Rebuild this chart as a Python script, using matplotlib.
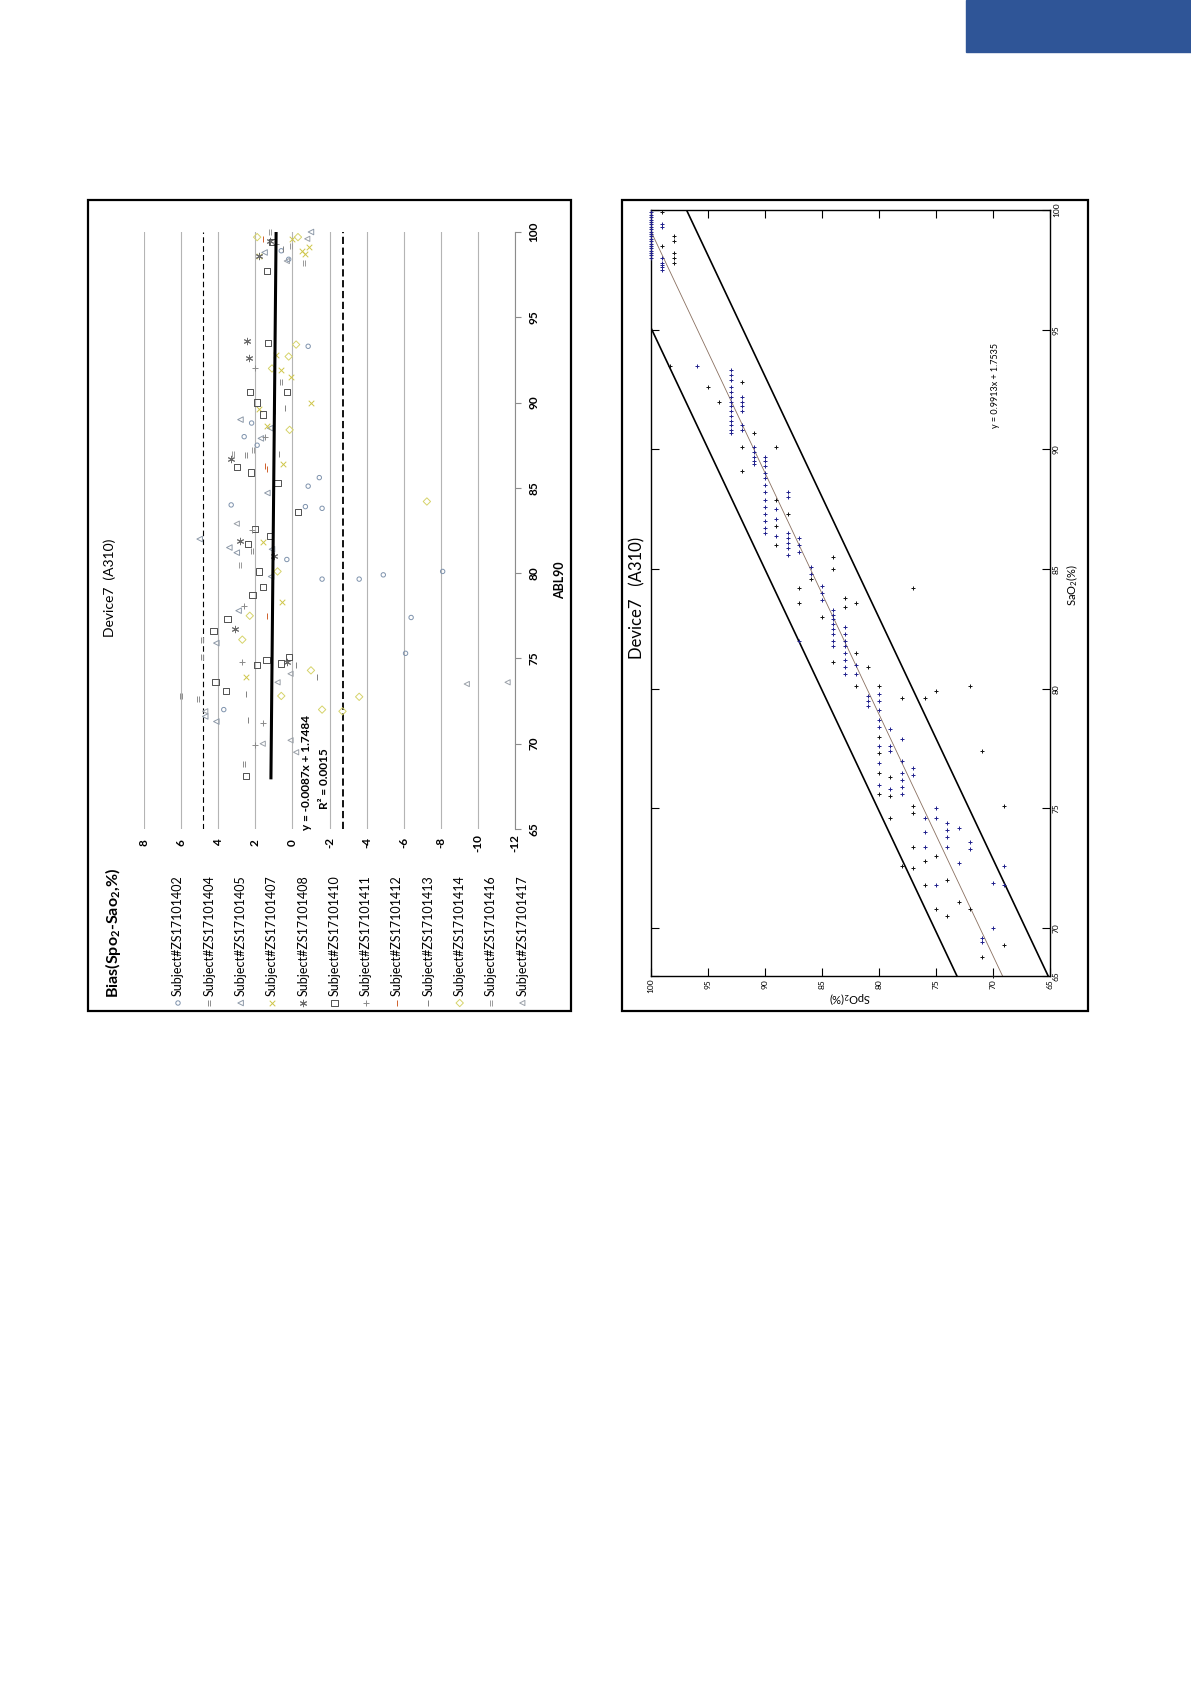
import numpy as np
import matplotlib
matplotlib.use('Agg')
import matplotlib.pyplot as plt
from matplotlib.patches import Rectangle

plt.rcParams['font.family'] = ['Lato', 'DejaVu Sans']
plt.rcParams['mathtext.fontset'] = 'custom'
plt.rcParams['mathtext.rm'] = 'Lato'
plt.rcParams['mathtext.it'] = 'Lato:italic'
plt.rcParams['mathtext.bf'] = 'Lato:bold'

# ---- left chart: bias vs ABL90, one list of (bias, abl90) per subject ----
s402 = [(-1.6, 79.65), (-3.6, 79.65), (-4.9, 79.9), (-8.1, 80.1), (-6.4, 77.4), (-6.1, 75.3),
        (-0.85, 93.3), (-1.45, 85.6), (-0.85, 85.1), (-0.7, 83.9), (-1.6, 83.8), (0.6, 98.9),
        (0.2, 98.4), (3.3, 84.0), (3.7, 72.0), (0.3, 80.8), (1.9, 87.5), (2.6, 88.0),
        (2.2, 88.8)]
s404 = [(4.9, 76.1), (4.9, 75.1), (6.0, 72.8), (5.1, 72.6), (2.6, 68.8), (1.0, 89.5),
        (2.5, 86.9), (0.6, 91.2), (2.2, 81.3)]
s405 = [(5.0, 82.0), (2.8, 89.0), (1.35, 84.7), (4.1, 75.9), (4.7, 71.6), (4.1, 71.3),
        (1.15, 79.8), (2.9, 77.8), (-1.0, 100.0), (3.4, 81.5), (3.0, 81.2), (1.7, 87.9),
        (1.2, 88.5), (1.5, 98.8), (1.1, 81.4)]
s407 = [(0.55, 78.3), (2.5, 73.9), (-1.0, 90.0), (-0.9, 99.1), (-0.7, 98.7), (1.35, 88.6),
        (0.9, 92.8), (1.8, 98.6), (0.5, 86.4), (1.6, 81.8), (0.1, 91.5), (1.8, 89.6),
        (0.6, 91.9), (0.0, 99.6), (-0.5, 98.9)]
s408 = [(2.45, 93.6), (3.1, 76.7), (3.3, 86.7), (1.8, 98.6), (0.3, 74.8), (1.2, 99.5),
        (1.0, 81.0), (2.35, 92.6), (2.8, 81.9)]
s410 = [(2.3, 90.6), (0.3, 90.6), (1.9, 90.0), (1.6, 89.3), (3.0, 86.2), (2.25, 85.9),
        (0.8, 85.3), (-0.3, 83.6), (1.2, 82.2), (2.15, 78.7), (1.6, 79.2), (1.8, 80.1),
        (3.5, 77.3), (4.25, 76.6), (4.15, 73.6), (3.6, 73.1), (1.4, 74.9), (1.9, 74.6),
        (0.6, 74.7), (0.2, 75.1), (2.5, 68.1), (1.37, 97.7), (1.1, 99.4), (2.4, 81.7),
        (1.3, 93.5), (2.0, 82.6)]
s411 = [(1.99, 92.0), (2.6, 78.1), (2.7, 74.8), (2.0, 69.9), (1.6, 71.2), (1.5, 88.0),
        (2.2, 82.5), (0.9, 99.3)]
s412 = [(1.35, 86.1), (1.35, 77.5), (1.5, 86.3), (1.6, 99.6)]
s413 = [(-0.2, 74.6), (-1.35, 73.9), (2.5, 72.9), (2.4, 71.4), (0.7, 87.0), (0.4, 89.7),
        (0.5, 99.0)]
s414 = [(0.15, 88.4), (-7.25, 84.2), (-3.6, 72.75), (-1.6, 72.0), (-2.7, 71.9), (-1.0, 74.3),
        (0.6, 72.8), (2.7, 76.1), (2.3, 77.5), (0.8, 80.1), (1.9, 99.7), (-0.3, 99.7),
        (1.1, 92.0), (0.2, 92.7), (-0.2, 93.4)]
s416 = [(1.2, 100.0), (0.1, 99.2), (-0.6, 98.2), (2.1, 87.2), (2.8, 80.5), (3.2, 87.0)]
s417 = [(-9.4, 73.5), (-11.6, 73.6), (0.8, 73.6), (0.1, 74.1), (1.6, 70.0), (0.1, 70.2),
        (-0.2, 69.5), (4.7, 71.9), (0.3, 98.3), (-0.8, 99.6), (3.0, 82.9)]

subject_names = ['Subject#ZS17101402', 'Subject#ZS17101404', 'Subject#ZS17101405',
                 'Subject#ZS17101407', 'Subject#ZS17101408', 'Subject#ZS17101410',
                 'Subject#ZS17101411', 'Subject#ZS17101412', 'Subject#ZS17101413',
                 'Subject#ZS17101414', 'Subject#ZS17101416', 'Subject#ZS17101417']
subjects = [s402, s404, s405, s407, s408, s410, s411, s412, s413, s414, s416, s417]

bias_ticks = [8, 6, 4, 2, 0, -2, -4, -6, -8, -10, -12]
abl_ticks = [65, 70, 75, 80, 85, 90, 95, 100]
upper_loa = 4.80
lower_loa = -2.74
fit_slope, fit_icpt = -0.0087, 1.7484
fit_range = [68, 100]

# ---- right chart: SpO2 vs SaO2, (spo2, sao2) pairs ----
blue_points = [
    (100, 99.9), (100, 99.8), (100, 99.7), (100, 99.6), (100, 99.5), (100, 99.4), (100, 99.3),
    (100, 99.2), (100, 99.1), (100, 99.0), (100, 98.9), (100, 98.8), (100, 98.7), (100, 98.6),
    (100, 98.5), (100, 98.4), (100, 98.3), (100, 98.2), (100, 98.1), (100, 98.0),
    (99, 99.4), (99, 99.3), (99, 98.0), (99, 97.8), (99, 97.7), (99, 97.6), (99, 97.5),
    (96, 93.5),
    (93, 93.3), (93, 93.1), (93, 92.9), (93, 92.6), (93, 92.4), (93, 92.2), (93, 92.0),
    (93, 91.8), (93, 91.6), (93, 91.4), (93, 91.2), (93, 91.0), (93, 90.8), (93, 90.7),
    (92, 92.2), (92, 92.0), (92, 91.8), (92, 91.6), (92, 91.0), (92, 90.8),
    (91, 90.1), (91, 89.9), (91, 89.7), (91, 89.5), (91, 89.4),
    (90, 89.7), (90, 89.5), (90, 89.3), (90, 89.0), (90, 88.8), (90, 88.5), (90, 88.2),
    (90, 87.9), (90, 87.6), (90, 87.3), (90, 87.0), (90, 86.7), (90, 86.5),
    (89, 87.5), (89, 87.1), (89, 86.4),
    (88, 88.2), (88, 88.0), (88, 86.5), (88, 86.3), (88, 86.1), (88, 85.9), (88, 85.6),
    (87, 86.3), (87, 86.0), (87, 85.7), (87, 82.0),
    (86, 85.1), (86, 84.8),
    (85, 84.3), (85, 84.0), (85, 83.7),
    (84, 83.3), (84, 83.1), (84, 82.9), (84, 82.7), (84, 82.5), (84, 82.3), (84, 82.0), (84, 81.8),
    (83, 82.6), (83, 82.3), (83, 82.0), (83, 81.8), (83, 81.5), (83, 81.2), (83, 80.9), (83, 80.6),
    (82, 81.0), (82, 80.6),
    (81, 79.7), (81, 79.5), (81, 79.3),
    (80, 79.8), (80, 79.5), (80, 79.1), (80, 78.7), (80, 78.4), (80, 77.6), (80, 76.9), (80, 76.0),
    (79, 78.3), (79, 77.6), (79, 77.4), (79, 75.8),
    (78, 77.9), (78, 77.0), (78, 76.5), (78, 76.2), (78, 75.9), (78, 75.6),
    (77, 76.7), (77, 76.4),
    (76, 74.6), (76, 74.0), (76, 73.4),
    (75, 75.0), (75, 74.6), (75, 71.8),
    (74, 74.4), (74, 74.1), (74, 73.8), (74, 73.4),
    (73, 74.2), (73, 72.7),
    (72, 73.6), (72, 73.3),
    (71, 69.6), (71, 69.4),
    (70, 71.9), (70, 70.0),
    (69, 72.6), (69, 71.8)]
black_points = [
    (99, 99.9), (99, 98.5), (98, 98.9), (98, 98.7), (98, 98.2), (98, 98.0), (98, 97.8),
    (98.3, 93.5), (95, 92.6), (94, 92.0), (92, 92.8), (92, 90.1), (92, 89.1), (91, 90.7),
    (89, 90.1), (89, 87.9), (89, 86.8), (89, 86.0), (88, 87.3), (87, 84.2), (87, 83.6),
    (86, 84.6), (85, 83.0), (84, 85.5), (84, 85.0), (84, 81.1), (83, 83.8), (83, 83.4),
    (82, 83.6), (82, 81.5), (82, 80.1), (81, 80.9), (80, 80.1), (80, 78.0), (80, 77.3),
    (80, 76.5), (80, 75.6), (79, 76.3), (79, 75.5), (79, 74.6), (78, 79.6), (78, 72.6),
    (77, 84.2), (77, 75.1), (77, 74.8), (77, 73.4), (77, 72.5), (76, 79.6), (76, 72.8),
    (76, 71.8), (75, 79.9), (75, 73.0), (75, 70.8), (74, 72.0), (74, 70.5), (73, 71.1),
    (72, 80.1), (72, 70.8), (71, 77.4), (71, 68.8), (70, 68.0), (69, 75.1), (69, 69.3)]

spo2_ticks = [100, 95, 90, 85, 80, 75, 70, 65]
sao2_ticks = [68, 70, 75, 80, 85, 90, 95, 100]
sao2_tick_labels = ['65', '70', '75', '80', '85', '90', '95', '100']
reg_slope, reg_icpt = 0.9913, 1.7535
band = 4

# ---------------------------------------------------------------
W, H = 1191, 1684
fig = plt.figure(figsize=(W / 100, H / 100), dpi=100)
bg = fig.add_axes([0, 0, 1, 1])
bg.set_xlim(0, W)
bg.set_ylim(H, 0)
bg.axis('off')

def px_axes(x0, y0, x1, y1):
    return fig.add_axes([x0 / W, 1 - y1 / H, (x1 - x0) / W, (y1 - y0) / H])

bg.add_patch(Rectangle((966, 0), W - 966, 52, color='#2f5597'))
bg.add_patch(Rectangle((88, 200), 483, 811, fill=False, lw=1.6, ec='black'))
bg.add_patch(Rectangle((622, 200), 466, 811, fill=False, lw=1.6, ec='black'))

# marker styles per subject (as seen in the rotated picture)
styles = [
    dict(marker='o', s=10, facecolors='none', edgecolors='#7f93ad'),
    dict(marker='$||$', s=22, color='#8c8c8c'),
    dict(marker='<', s=16, facecolors='none', edgecolors='#8d99a8'),
    dict(marker='x', s=16, color='#cfc64a'),
    dict(marker=(6, 2, 0), s=22, color='#6b6b6b'),
    dict(marker='s', s=20, facecolors='none', edgecolors='#505050'),
    dict(marker='+', s=18, color='#8a8a8a'),
    dict(marker='|', s=14, color='#d0602a'),
    dict(marker='|', s=14, color='#808080'),
    dict(marker='D', s=14, facecolors='none', edgecolors='#d6d36a'),
    dict(marker='$||$', s=22, color='#9a9a9a'),
    dict(marker='<', s=14, facecolors='none', edgecolors='#9aa0a8'),
]

# ---- left chart ----
ax1 = px_axes(144, 232, 515, 829)
ax1.set_facecolor('none')
ax1.set_xlim(8, -12)
ax1.set_ylim(65, 100)
for side in ['top', 'left', 'bottom']:
    ax1.spines[side].set_visible(False)
ax1.spines['right'].set_color('#8c8c8c')
ax1.set_xticks(bias_ticks)
ax1.set_xticklabels([str(t) for t in bias_ticks], rotation=90, va='center',
                    fontsize=8.5, fontweight='bold')
ax1.tick_params(axis='x', length=0, pad=10)
ax1.yaxis.tick_right()
ax1.set_yticks(abl_ticks)
ax1.set_yticklabels([str(t) for t in abl_ticks], rotation=90, ha='center', va='center',
                    fontsize=8.5, fontweight='bold')
ax1.tick_params(axis='y', direction='out', length=4, color='#8c8c8c', pad=9.5)
ax1.grid(axis='x', color='#b4b4b4', lw=0.8)
ax1.set_axisbelow(True)

ax1.axvline(upper_loa, color='black', lw=0.8, ls=(0, (5, 3)))
ax1.axvline(lower_loa, color='black', lw=1.3, ls=(0, (4, 2)))

for pts, st in zip(subjects, styles):
    b, a = np.array(pts).T
    ax1.scatter(b, a, linewidths=0.7, clip_on=False, zorder=3, **st)

abl_fit = np.array(fit_range)
ax1.plot(fit_slope * abl_fit + fit_icpt, abl_fit, color='black', lw=2.2, zorder=4)

# legend of the left chart
for i, (name, st) in enumerate(zip(subject_names, styles)):
    lx = 178 + 31.3 * i
    bg.scatter([lx], [1003], linewidths=0.7, **st)
    bg.text(lx, 996, name, rotation=90, rotation_mode='anchor', ha='left', va='center',
            fontsize=9, color='black')

bg.text(113, 998, r'Bias(Spo$_\mathbf{2}$-Sao$_\mathbf{2}$,%)', rotation=90,
        rotation_mode='anchor', ha='left', va='center', fontsize=11.5, fontweight='bold')
bg.text(110, 588, 'Device7  (A310)', rotation=90, ha='center', va='center', fontsize=10)
bg.text(560, 580, 'ABL90', rotation=90, ha='center', va='center', fontsize=9,
        fontweight='bold')
bg.text(307, 772, 'y = -0.0087x + 1.7484', rotation=90, ha='center', va='center',
        fontsize=8.5, fontweight='bold')
bg.text(325, 779, 'R² = 0.0015', rotation=90, ha='center', va='center',
        fontsize=8.5, fontweight='bold')

# ---- right chart ----
ax2 = px_axes(651, 210, 1050, 976)
ax2.set_facecolor('none')
ax2.set_xlim(100, 65)
ax2.set_ylim(68, 100)
ax2.set_xticks(spo2_ticks)
ax2.set_xticklabels([str(t) for t in spo2_ticks], rotation=90, fontsize=6)
ax2.set_yticks(sao2_ticks)
ax2.set_yticklabels(sao2_tick_labels, rotation=90, va='center', fontsize=6)
ax2.tick_params(direction='in', length=6, width=0.8, top=True, right=True, left=True,
                bottom=True, labelleft=False, labelright=True, labelbottom=True, pad=2)
for sp in ax2.spines.values():
    sp.set_linewidth(1.0)

sao2_line = np.array([60.0, 105.0])
spo2_line = reg_slope * sao2_line + reg_icpt
ax2.plot(spo2_line, sao2_line, color='#8a7060', lw=0.6)
ax2.plot(spo2_line + band, sao2_line, color='black', lw=1.2)
ax2.plot(spo2_line - band, sao2_line, color='black', lw=1.2)

bx, by = np.array(blue_points).T
ax2.scatter(bx, by, marker='+', s=9, linewidths=0.7, color='#20208c', clip_on=False, zorder=3)
kx, ky = np.array(black_points).T
ax2.scatter(kx, ky, marker='+', s=9, linewidths=0.7, color='#111111', clip_on=False, zorder=3)

bg.text(637, 598, 'Device7   (A310)', rotation=90, ha='center', va='center', fontsize=12)
bg.text(996, 385, 'y = 0.9913x + 1.7535', rotation=90, ha='center', va='center', fontsize=6.5)
bg.text(1072, 585, r'SaO$_2$(%)', rotation=90, ha='center', va='center', fontsize=8)
bg.text(850, 998, r'SpO$_2$(%)', rotation=180, ha='center', va='center', fontsize=8)

fig.savefig('out.png', dpi=100)
